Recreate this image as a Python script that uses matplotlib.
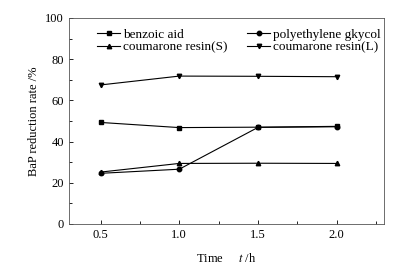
import matplotlib
matplotlib.use("Agg")
import matplotlib.pyplot as plt
from matplotlib.ticker import MultipleLocator

plt.rcParams["font.family"] = ["Liberation Serif", "DejaVu Serif"]
plt.rcParams["mathtext.fontset"] = "stix"

# ------------------------------------------------------------------ data
time_h = [0.5, 1.0, 1.5, 2.0]
benzoic = [49.3, 46.8, 47.0, 47.4]
peg = [24.6, 26.6, 46.9, 47.2]
coum_s = [25.2, 29.4, 29.5, 29.4]
coum_l = [67.5, 71.8, 71.7, 71.5]

# order chosen so the 2-column legend reads row by row like the original
series = [
    ("benzoic aid", benzoic, "s"),
    ("coumarone resin(S)", coum_s, "^"),
    ("polyethylene gkycol", peg, "o"),
    ("coumarone resin(L)", coum_l, "v"),
]

# ------------------------------------------------------------------ plot
fig = plt.figure(figsize=(3.99, 2.69), dpi=100)
ax = fig.add_axes([69 / 399, 1 - 224 / 269, 315 / 399, 206 / 269])

for name, vals, mk in series:
    ax.plot(time_h, vals, color="black", lw=0.8, marker=mk, ms=3.2, label=name)

ax.set_xlim(0.3, 2.3)
ax.set_ylim(0, 100)
ax.xaxis.set_minor_locator(MultipleLocator(0.25))
ax.yaxis.set_major_locator(MultipleLocator(20))
ax.yaxis.set_minor_locator(MultipleLocator(10))
ax.set_xticks([0.5, 1.0, 1.5, 2.0])
ax.set_xticklabels(["0.5", "1.0", "1.5", "2.0"])
ax.tick_params(which="both", direction="in", top=False, right=False,
               labelsize=9, width=0.6)
ax.tick_params(which="major", length=3)
ax.tick_params(which="minor", length=2)
for sp in ax.spines.values():
    sp.set_linewidth(0.6)
    sp.set_color("#555555")

ax.set_ylabel("BaP reduction rate /%", fontsize=9)
ax.set_xlabel(r"Time     $t$ /h", fontsize=9, labelpad=8)

ax.legend(loc="upper left", bbox_to_anchor=(0.088, 0.95), ncol=2, frameon=False,
          fontsize=9.5, handlelength=1.8, handletextpad=0.2, columnspacing=1.45,
          labelspacing=0.05, borderaxespad=0, borderpad=0)

fig.savefig("out.png", dpi=100)
